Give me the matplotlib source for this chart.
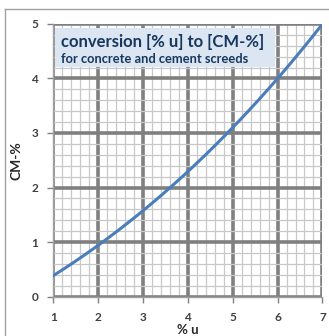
import matplotlib
matplotlib.use("Agg")
import matplotlib.pyplot as plt
from matplotlib.patches import Rectangle
from matplotlib.lines import Line2D
import numpy as np

plt.rcParams['font.family'] = ['Lato', 'DejaVu Sans']

# values
u_pct = [1, 2, 3, 4, 5, 6, 7]
cm_pct = [0.4, 0.9, 1.6, 2.32, 3.07, 4.0, 5.0]

title = "conversion [% u] to [CM-%]"
subtitle = "for concrete and cement screeds"

fig = plt.figure(figsize=(3.29, 3.36), dpi=100)
ax = fig.add_axes([0.162, 0.117, 0.818, 0.812])

# smooth curve through the read points
xs = np.linspace(1, 7, 200)
coef = np.polyfit(u_pct, cm_pct, 3)
ax.plot(xs, np.polyval(coef, xs), color="#4a7ebb", lw=2.2, zorder=5, solid_capstyle="round")

ax.set_xlim(1, 7)
ax.set_ylim(0, 5)
ax.set_xticks(range(1, 8))
ax.set_yticks(range(0, 6))
ax.set_xticks(np.arange(1, 7.01, 0.2), minor=True)
ax.set_yticks(np.arange(0, 5.01, 0.2), minor=True)
ax.grid(which="minor", color="#c8c8c8", lw=0.9, zorder=1)
ax.grid(which="major", color="#808080", lw=2.6, zorder=2)
ax.tick_params(which="minor", length=0)
ax.tick_params(which="major", length=4, width=1, color="#808080", labelsize=8.5,
               labelcolor="#404040", pad=7)
for lab in ax.get_xticklabels() + ax.get_yticklabels():
    lab.set_fontweight("bold")
for s in ["top", "right"]:
    ax.spines[s].set_visible(False)
for s in ["left", "bottom"]:
    ax.spines[s].set_color("#a0a0a0")
    ax.spines[s].set_linewidth(1)

ax.set_xlabel("% u", fontsize=9.5, fontweight="bold", color="#262626", labelpad=1)
ax.set_ylabel("CM-%", fontsize=10, fontweight="bold", color="#262626", labelpad=6)

# title box
ax.add_patch(Rectangle((1.04, 4.21), 4.91, 0.72, facecolor="#dce6f2", edgecolor="none",
                       zorder=6))
ax.text(1.17, 4.66, title, fontsize=12, fontweight="bold", color="#17375e",
        va="center", ha="left", zorder=7)
ax.text(1.17, 4.35, subtitle, fontsize=9.3, fontweight="bold", color="#17375e",
        va="center", ha="left", zorder=7)

# chart border
fig.add_artist(Line2D([5/329, 5/329], [0, 1 - 9/336], color="#a0a0a0", lw=1))
fig.add_artist(Line2D([5/329, 1], [1 - 9/336, 1 - 9/336], color="#a0a0a0", lw=1))

fig.savefig("out.png", dpi=100)
